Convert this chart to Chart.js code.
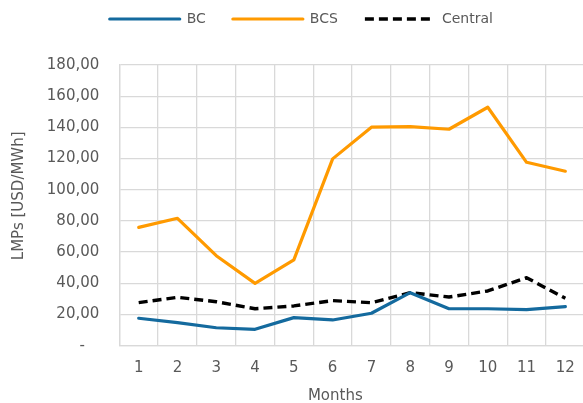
<!DOCTYPE html>
<html>
<head>
<meta charset="utf-8">
<script src="https://cdn.jsdelivr.net/npm/chart.js@4.4.1/dist/chart.umd.min.js"></script>
<style>
  html, body { margin: 0; padding: 0; background: #fff; overflow: hidden; }
  #wrap { width: 588px; height: 403px; }
</style>
</head>
<body>
<div id="wrap"><canvas id="c" width="588" height="403"></canvas></div>
<script>
// Monthly locational marginal prices
const months = ['1', '2', '3', '4', '5', '6', '7', '8', '9', '10', '11', '12'];
const bc      = [17.6, 14.8, 11.5, 10.5, 18.0, 16.5, 20.8, 34.0, 23.7, 23.7, 23.1, 25.0];
const bcs     = [75.9, 81.7, 57.7, 40.0, 55.0, 119.8, 140.1, 140.5, 138.8, 152.9, 117.6, 111.9];
const central = [27.6, 31.0, 28.2, 23.7, 25.5, 28.9, 27.6, 34.0, 31.2, 35.1, 43.6, 30.4];
const yTicks  = [0, 20, 40, 60, 80, 100, 120, 140, 160, 180];

const FONT = 'DejaVu Sans';
const TEXT = '#595959';
const GRID = '#d9d9d9';

const fmt = v => v === 0 ? '-   ' : v.toFixed(2).replace('.', ',');

// Legend row: extra space below it and a small horizontal offset
const legendPlacement = {
  id: 'legendPlacement',
  beforeInit(chart) {
    const fit = chart.legend.fit;
    chart.legend.fit = function () {
      fit.call(this);
      this.height = 80;
    };
  },
  afterLayout(chart) {
    chart.legend.left += 8.5;
    chart.legend.right += 8.5;
  }
};

// Legend samples show each series' own line style (dash and cap)
function legendLabels(chart) {
  const items = Chart.defaults.plugins.legend.labels.generateLabels(chart);
  items.forEach(item => {
    const ds = chart.data.datasets[item.datasetIndex];
    item.lineDash = ds.borderDash || [];
    item.lineCap = ds.borderCapStyle || 'butt';
    item.lineWidth = ds.borderWidth;
  });
  return items;
}

new Chart(document.getElementById('c'), {
  type: 'line',
  data: {
    labels: months,
    datasets: [
      { label: 'BC', data: bc, borderColor: '#146a9e', backgroundColor: '#146a9e',
        borderWidth: 3.2, borderCapStyle: 'round', borderJoinStyle: 'round', pointRadius: 0, tension: 0 },
      { label: 'BCS', data: bcs, borderColor: '#ff9a00', backgroundColor: '#ff9a00',
        borderWidth: 3.2, borderCapStyle: 'round', borderJoinStyle: 'round', pointRadius: 0, tension: 0 },
      { label: 'Central', data: central, borderColor: '#000000', backgroundColor: '#000000',
        borderWidth: 3.4, borderDash: [9, 5], borderCapStyle: 'butt', borderJoinStyle: 'round', pointRadius: 0, tension: 0 }
    ]
  },
  options: {
    responsive: false,
    animation: false,
    devicePixelRatio: 1,
    layout: { padding: { top: -15, left: 0, right: 2.4, bottom: 0 } },
    plugins: {
      tooltip: { enabled: false },
      legend: {
        position: 'top',
        labels: {
          usePointStyle: true,
          pointStyle: 'line',
          pointStyleWidth: 70,
          padding: 27,
          color: TEXT,
          font: { family: FONT, size: 14 },
          generateLabels: legendLabels
        }
      }
    },
    scales: {
      x: {
        type: 'category',
        offset: true,
        grid: { offset: true, color: GRID, lineWidth: 1.3, tickLength: 0, drawTicks: false },
        border: { color: GRID, width: 1.3 },
        ticks: { color: TEXT, font: { family: FONT, size: 15 }, padding: 13, maxRotation: 0, autoSkip: false },
        title: { display: true, text: 'Months       ', color: TEXT,
                 font: { family: FONT, size: 15 }, padding: { top: 0, bottom: -2 } },
        afterFit(scale) { scale.height = 57.3; }
      },
      y: {
        min: 0, max: 180,
        afterBuildTicks(scale) { scale.ticks = yTicks.map(v => ({ value: v })); },
        grid: { color: GRID, lineWidth: 1.3, tickLength: 0, drawTicks: false },
        border: { color: GRID, width: 1.3 },
        ticks: { color: TEXT, font: { family: FONT, size: 15 }, padding: 20, callback: fmt },
        title: { display: true, text: '    LMPs [USD/MWh]', color: TEXT,
                 font: { family: FONT, size: 15 }, padding: { top: 10, bottom: 0 } },
        afterFit(scale) { scale.width = 119.3; }
      }
    }
  },
  plugins: [legendPlacement]
});
</script>
</body>
</html>
